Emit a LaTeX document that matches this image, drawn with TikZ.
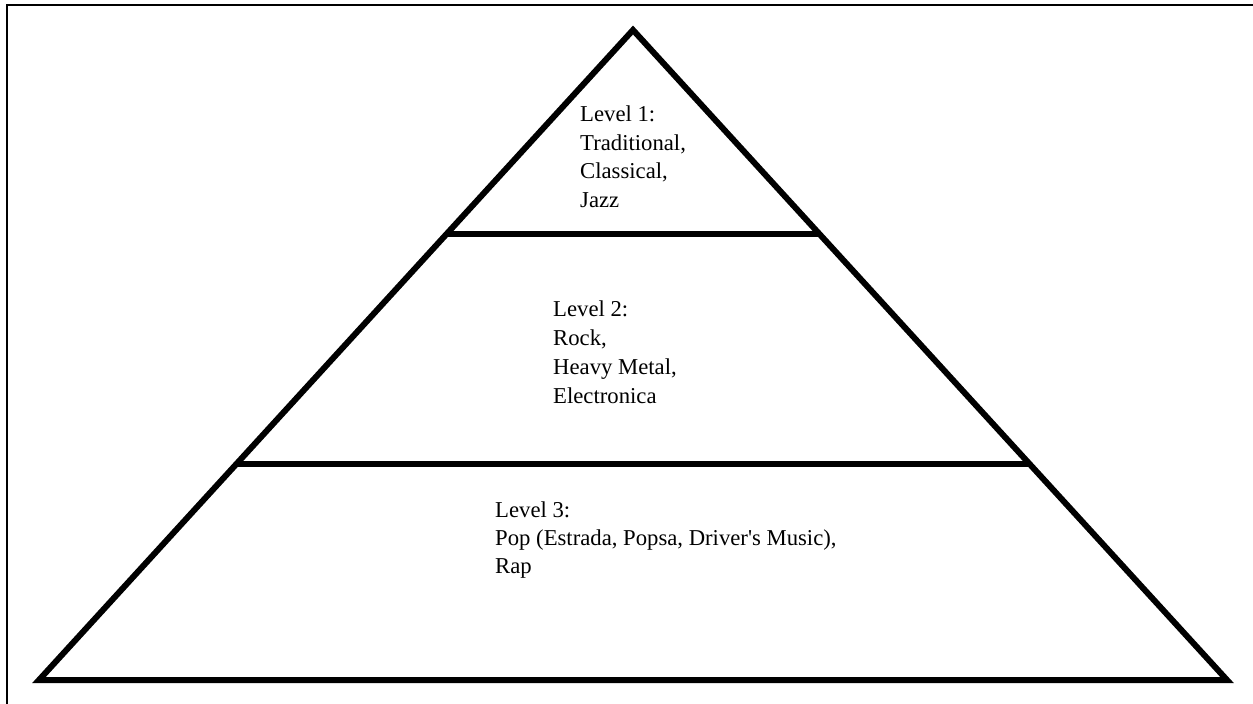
\documentclass[tikz,border=0pt]{standalone}
\usepackage{fontspec}
\setmainfont{Liberation Serif}[Ligatures=TeXOff]
\usetikzlibrary{calc}
\tikzset{
  pyr/.style={line width=6pt, line join=miter, black},
  frameline/.style={line width=2pt, black},
  lbl/.style={anchor=base west, inner sep=0pt, font=\fontsize{22.7}{27}\selectfont}
}
\begin{document}
\begin{tikzpicture}[x=1pt,y=-1pt]
\useasboundingbox (0,0) rectangle (1253,704);
% frame (top and left edges only)
\coordinate (fbl) at (7,704);
\coordinate (ftl) at (7,5);
\coordinate (ftr) at (1253,5);
\draw[frameline] (fbl) -- (ftl) -- (ftr);
% pyramid
\coordinate (apex) at (633,30);
\coordinate (bl) at (39,680);
\coordinate (br) at (1227,680);
\draw[pyr] (apex) -- (bl) -- (br) -- cycle;
\coordinate (l1a) at ($(apex)!0.3138!(bl)$);
\coordinate (l1b) at ($(apex)!0.3138!(br)$);
\coordinate (l2a) at ($(apex)!0.6677!(bl)$);
\coordinate (l2b) at ($(apex)!0.6677!(br)$);
\draw[pyr] (l1a) -- (l1b);
\draw[pyr] (l2a) -- (l2b);
% labels
\node[lbl] (t11) at (580,121) {Level 1:};
\node[lbl] (t12) at (580,150) {Traditional,};
\node[lbl] (t13) at (580,178) {Classical,};
\node[lbl] (t14) at (580,207) {Jazz};
\node[lbl] (t21) at (553,316) {Level 2:};
\node[lbl] (t22) at (553,345) {Rock,};
\node[lbl] (t23) at (553,374) {Heavy Metal,};
\node[lbl] (t24) at (553,403) {Electronica};
\node[lbl] (t31) at (495,517) {Level 3:};
\node[lbl] (t32) at (495,545) {Pop (Estrada, Popsa, Driver's Music),};
\node[lbl] (t33) at (495,573) {Rap};
\end{tikzpicture}
\end{document}
